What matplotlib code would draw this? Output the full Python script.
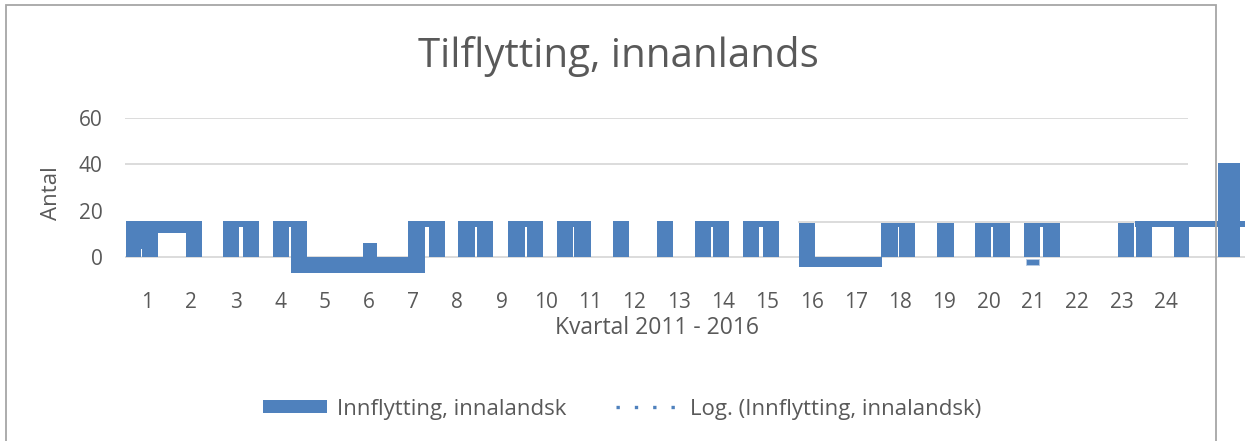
import matplotlib
matplotlib.use("Agg")
import matplotlib.pyplot as plt
from matplotlib.patches import Patch, Rectangle
from matplotlib.lines import Line2D

# ---------------------------------------------------------
# DATA (the source chart renders
# its quarterly columns as split / capped blocks)
# ---------------------------------------------------------
quarters = list(range(1, 25))
y_ticks = [0, 20, 40, 60]

# column blocks: left edge, right edge (quarter units), low, high (Antal)
block_x0 = [0.523, 0.854, 0.891, 1.245, 1.877,
            2.719, 2.719, 3.171,
            3.848, 3.848, 4.248, 4.602, 5.880, 6.897, 6.897, 7.371,
            8.019, 8.019, 8.448,
            9.148, 9.148, 9.577,
            10.254, 10.254, 10.638,
            11.518, 12.512,
            13.370, 13.370, 13.776,
            14.453, 14.453, 14.905,
            15.718, 16.079,
            17.569, 17.569, 17.976,
            18.834,
            19.691, 19.691, 20.098,
            20.798, 20.798, 21.227,
            22.920, 23.304, 23.327, 24.185,
            25.171]
block_x1 = [0.854, 0.891, 1.245, 1.877, 2.232,
            3.525, 3.074, 3.525,
            4.602, 4.203, 4.602, 7.274, 6.183, 7.725, 7.274, 7.725,
            8.809, 8.402, 8.809,
            9.938, 9.531, 9.938,
            11.022, 10.615, 11.022,
            11.880, 12.873,
            14.137, 13.731, 14.137,
            15.266, 14.815, 15.266,
            16.079, 17.592,
            18.337, 17.953, 18.337,
            19.217,
            20.482, 20.053, 20.482,
            21.611, 21.159, 21.611,
            23.281, 25.788, 23.688, 24.530,
            25.674]
block_lo = [0, 3.5, 0, 10.4, 0,
            12.9, 0, 0,
            12.9, 0, -6.8, -6.8, 0, 12.9, -6.8, 0,
            12.9, 0, 0,
            12.9, 0, 0,
            12.9, 0, 0,
            0, 0,
            12.9, 0, 0,
            12.9, 0, 0,
            -4.2, -4.2,
            12.9, 0, 0,
            0,
            12.9, 0, 0,
            12.9, 0, 0,
            0, 12.9, 0, 0,
            0]
block_hi = [15.5, 15.5, 15.5, 15.5, 15.5,
            15.5, 15.5, 15.5,
            15.5, 15.5, 15.5, 0, 6.0, 15.5, 15.5, 15.5,
            15.5, 15.5, 15.5,
            15.5, 15.5, 15.5,
            15.5, 15.5, 15.5,
            15.5, 15.5,
            15.5, 15.5, 15.5,
            15.5, 15.5, 15.5,
            14.7, 0,
            14.7, 14.7, 14.7,
            14.7,
            14.7, 14.7, 14.7,
            14.7, 14.7, 14.7,
            14.7, 15.5, 15.5, 15.5,
            40.6]

# small detached block below quarter 21
light_x0 = [20.836]
light_x1 = [21.137]
light_lo = [-3.5]
light_hi = [-0.9]

# =========================================================
# PLOT
# =========================================================
BLUE = "#4f81bd"
GRID = "#d9d9d9"
TEXT = "#595959"

plt.rcParams["font.family"] = ["Open Sans", "DejaVu Sans"]

W, H = 1245, 441
fig = plt.figure(figsize=(W / 100, H / 100), dpi=100)
ax = fig.add_axes([125 / W, 1 - 257 / H, 1063 / W, 139 / H])

ax.set_xlim(0.5, 24.5)
ax.set_ylim(0, 60)

# gridlines
for v in [40, 60]:
    ax.axhline(v, color=GRID, lw=1.3, zorder=0)
ax.hlines(0, 0.5, 25.8, color=GRID, lw=1.3, zorder=0, clip_on=False)
ax.hlines(15.1, 15.7, 25.8, color=GRID, lw=1.3, zorder=0, clip_on=False)

widths = [b - a for a, b in zip(block_x0, block_x1)]
heights = [h - l for l, h in zip(block_lo, block_hi)]
ax.bar(block_x0, heights, width=widths, bottom=block_lo, align="edge",
       color=BLUE, linewidth=0, zorder=2, clip_on=False)

lw_ = [b - a for a, b in zip(light_x0, light_x1)]
lh_ = [h - l for l, h in zip(light_lo, light_hi)]
ax.bar(light_x0, lh_, width=lw_, bottom=light_lo, align="edge",
       color=BLUE, edgecolor="#b8cce4", linewidth=0.6, zorder=3,
       clip_on=False)

ax.set_xticks(quarters)
ax.set_xticklabels([str(q) for q in quarters])
ax.set_yticks(y_ticks)
ax.tick_params(axis="x", length=0, pad=25, labelsize=15, labelcolor=TEXT)
ax.tick_params(axis="y", length=0, pad=16, labelsize=15, labelcolor=TEXT)
for s in ax.spines.values():
    s.set_visible(False)

# texts
fig.text(618 / W, 1 - 67 / H, "Tilflytting, innanlands", ha="center",
         va="baseline", fontsize=29, color=TEXT)
fig.text(657 / W, 1 - 334 / H, "Kvartal 2011 - 2016", ha="center",
         va="baseline", fontsize=16.5, color=TEXT)
fig.text(57 / W, 1 - 193 / H, "Antal", rotation=90, rotation_mode="anchor",
         ha="center", va="baseline", fontsize=16, color=TEXT)

# legend
handles = [
    Patch(facecolor=BLUE, edgecolor="none"),
    Line2D([0], [0], color=BLUE, lw=2.4, linestyle=(0, (1, 4.5))),
]
labels = ["Innflytting, innalandsk", "Log. (Innflytting, innalandsk)"]
fig.legend(handles, labels, loc="center", bbox_to_anchor=(622 / W, 1 - 409 / H),
           ncol=2, frameon=False, fontsize=16, labelcolor=TEXT,
           handlelength=2.9, handleheight=0.55, handletextpad=0.45,
           columnspacing=2.2)

# chart border
fig.add_artist(Rectangle((6 / W, -0.02), (1216 - 6) / W, 1.02 - 5 / H,
                         transform=fig.transFigure, fill=False,
                         edgecolor="#a6a6a6", lw=1.3))

fig.savefig("out.png", dpi=100)
